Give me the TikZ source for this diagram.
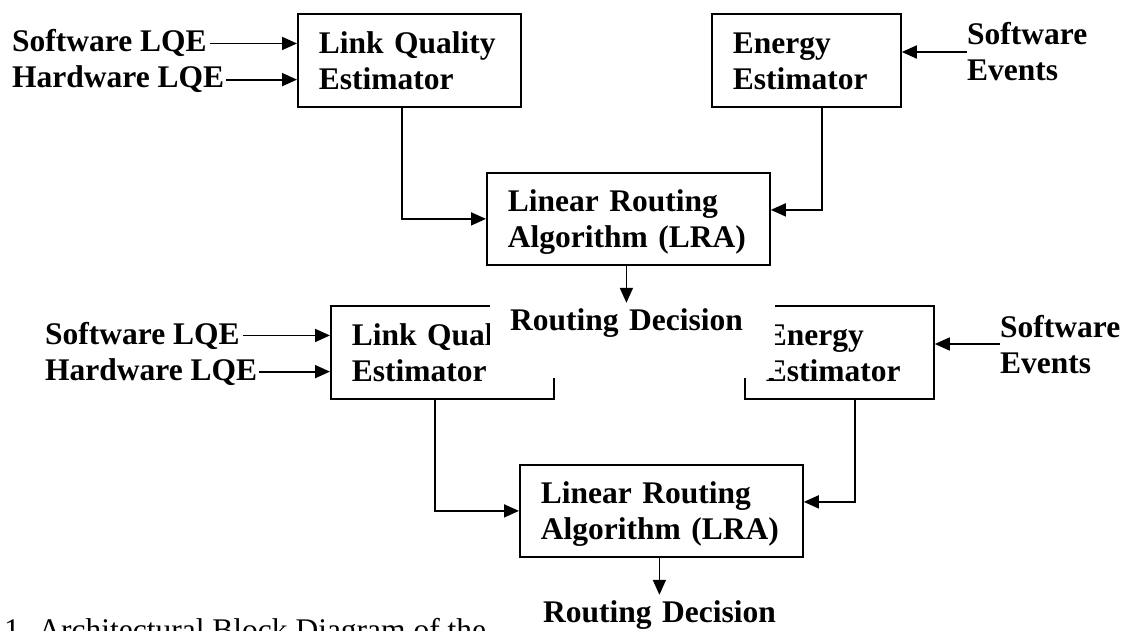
\documentclass[tikz,border=0pt]{standalone}
\usepackage{fontspec}
\setmainfont{Liberation Serif}
\usetikzlibrary{arrows.meta}

\tikzset{
  x=1pt, y=-1pt,
  txtfont/.style={font=\fontsize{31.5}{36}\selectfont\bfseries},
  twolines/.style={align=left, text height=22pt, text depth=36pt},
  blk/.style={draw, line width=1.8pt, anchor=north west, txtfont, twolines,
    inner xsep=21pt, inner ysep=0pt},
  lbl/.style={txtfont, inner sep=0pt},
  conn/.style={line width=1.8pt},
  arr/.style={conn, -{Triangle[length=15pt,width=13pt]}},
  rdbox/.style={fill=white, txtfont, anchor=base west, align=left,
    text width=245pt, inner xsep=20pt, inner ysep=8pt,
    text height=22pt, text depth=40pt},
}

% One complete block diagram; node names get the scope's prefix
\newcommand\archdiagram{%
  \node[lbl, anchor=base west] (swlqe) at (12,52) {Software LQE};
  \node[lbl, anchor=base west] (hwlqe) at (12,88) {Hardware LQE};
  \node[blk, text width=181pt, minimum height=93pt] (lqe) at (297,13) {Link Quality\\Estimator};
  \node[blk, text width=147pt, minimum height=93pt] (ene) at (711,13) {Energy\\Estimator};
  \node[lbl, twolines, text width=128pt, anchor=west] (swev) at (967,52) {Software\\Events};
  \node[blk, text width=241pt, minimum height=92pt] (lra) at (486,172) {Linear Routing\\Algorithm (LRA)};
  \node[rdbox] (rdec) at (490,330) {Routing Decision};
  \draw[arr] ([xshift=3pt]swlqe.east) -- (swlqe.east -| lqe.west);
  \draw[arr] ([xshift=2pt]hwlqe.east) -- (hwlqe.east -| lqe.west);
  \draw[arr] (swev.west) -- (swev.west -| ene.east);
  \draw[arr] ([xshift=-7.5pt]lqe.south) |- (lra.west);
  \draw[arr] ([xshift=15.5pt]ene.south) |- ([yshift=9pt]lra.east);
  \draw[arr] ([xshift=-2pt]lra.south) -- ([xshift=-2pt,yshift=-3pt]lra.south |- rdec.north);
}

\begin{document}
\begin{tikzpicture}
  \useasboundingbox (0,0) rectangle (1130,631);
  \fill[white] (0,0) rectangle (1130,631);
  \clip (0,0) rectangle (1130,631);
  % figure caption, running off the lower edge
  \node[anchor=base west, inner sep=0pt, font=\fontsize{31.5}{36}\selectfont] (caption) at (4,640)
    {1. Architectural Block Diagram of the};
  % second copy of the diagram, lower and to the right
  \begin{scope}[shift={(33,292)}, name prefix=low-]
    \archdiagram
  \end{scope}
  % first copy on top
  \begin{scope}[name prefix=up-]
    \archdiagram
  \end{scope}
\end{tikzpicture}
\end{document}
